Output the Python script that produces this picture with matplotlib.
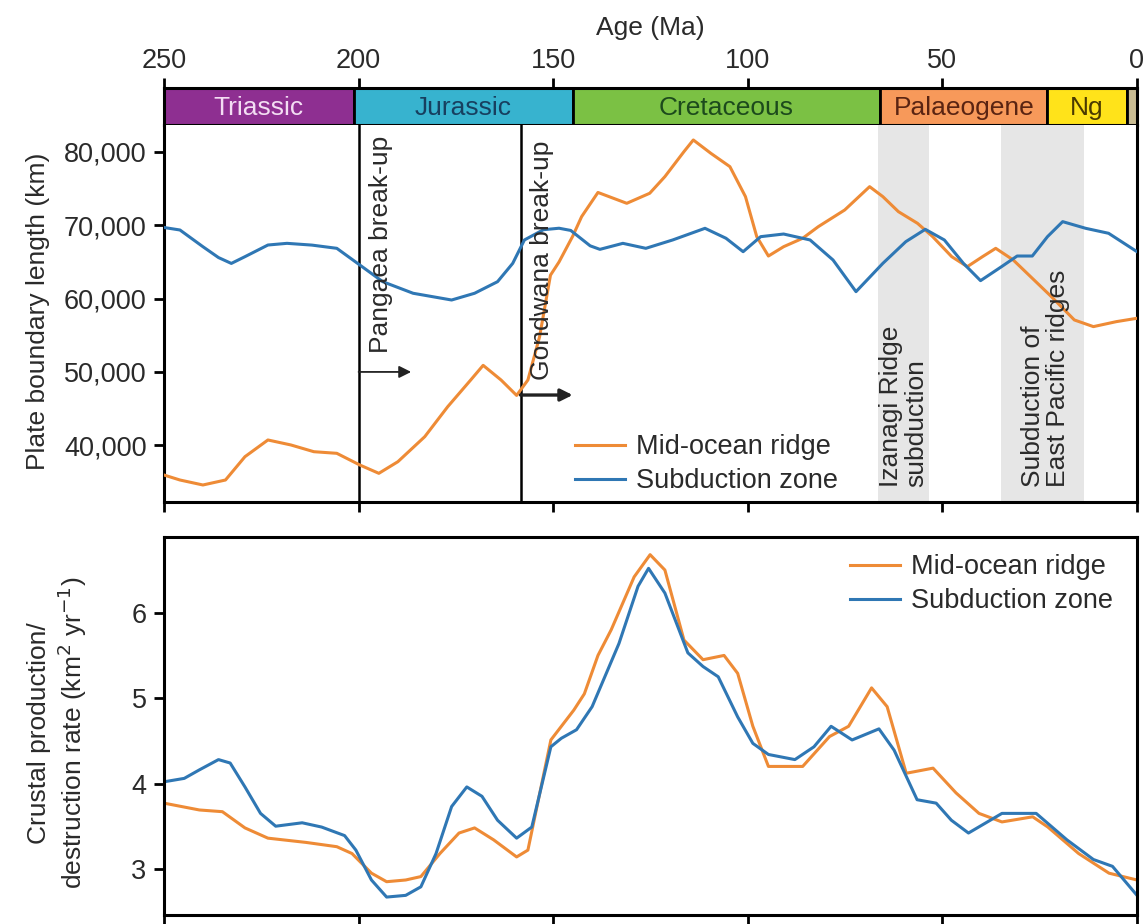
import matplotlib.pyplot as plt

plt.rcParams['font.family'] = ['Liberation Sans', 'DejaVu Sans']

# geological periods (start, end, name)
periodos = [(250, 201.3, 'Triassic'), (201.3, 145, 'Jurassic'), (145, 66, 'Cretaceous'),
            (66, 23, 'Palaeogene'), (23, 2.6, 'Ng'), (2.6, 0, '')]
cores_periodo = ['#8E2F91', '#37B3CF', '#7BC144', '#F7995A', '#FFE31A', '#C9BC93']
cores_texto = ['#F3DDF3', '#173F5F', '#1C4A1C', '#5A2412', '#4A3A00', '#000000']

# top panel: plate boundary length (km)
idade_sub = [250, 245.9, 240, 236, 232.7, 229.2, 223.3, 218.4, 212, 205.6, 199.7, 193.8, 186,
             176.1, 170.2, 164.3, 160.4, 157.4, 152.5, 148.5, 145.5, 140.5, 138, 132.1, 126.2,
             119.3, 111, 105.6, 101.2, 96.7, 90.8, 84, 78.1, 72.2, 65.3, 59.4, 54.4, 49.5,
             44.6, 40.2, 34.8, 30.8, 26.9, 23, 19.1, 13.2, 7.3, 0]
comp_sub = [69700, 69360, 67080, 65600, 64800, 65720, 67310, 67540, 67300, 66860, 64590, 62310,
            60730, 59810, 60730, 62310, 64810, 68000, 69400, 69600, 69300, 67200, 66720, 67540,
            66860, 68000, 69590, 68230, 66400, 68450, 68810, 68000, 65270, 60950, 64810, 67770,
            69450, 68000, 64810, 62450, 64360, 65810, 65810, 68450, 70500, 69590, 68910, 66400]

idade_dorsal = [250, 245.9, 240, 234.2, 229.2, 223.3, 217.4, 211.5, 205.6, 199.7, 194.8, 189.9,
                183, 177.1, 171.2, 168, 163.4, 159.4, 156.5, 153.5, 150.7, 148.5, 145, 142.7,
                138.5, 131.1, 125.2, 121.3, 116.4, 114, 109.5, 104.6, 100.6, 97.7, 94.7, 90.8,
                85.9, 81.9, 75.1, 68.7, 65.3, 61.3, 56.4, 52.5, 47.6, 43.6, 39.7, 36.3, 31.8,
                26.9, 22, 16.1, 11.2, 5.3, 0]
comp_dorsal = [35940, 35260, 34580, 35260, 38440, 40720, 40040, 39120, 38900, 37310, 36170,
               37760, 41170, 45260, 48900, 50900, 48900, 46800, 48900, 54800, 63200, 65000,
               68500, 71180, 74480, 73000, 74370, 76640, 80050, 81640, 79820, 78000, 73910,
               68450, 65810, 67080, 68230, 69810, 72090, 75270, 73910, 71860, 70270, 68450,
               65720, 64360, 65720, 66860, 65270, 62770, 60270, 57090, 56180, 56860, 57320]

# bottom panel: crustal production / destruction rate (km2/yr)
idade_taxa_sub = [250, 244.8, 240.9, 236, 233, 229.2, 225.2, 221.3, 214.5, 209.5, 203.6, 200.7,
                  196.7, 192.8, 187.9, 184, 180.1, 176.1, 172.2, 168.3, 164.3, 159.4, 155.5,
                  150.6, 147.9, 144, 140, 133.1, 128.2, 125.5, 121.3, 115.4, 111.5, 107.6,
                  102.6, 98.7, 94.7, 87.9, 83, 78.6, 73.2, 66.3, 62.4, 56.5, 51.6, 47.7, 43.3,
                  34.7, 25.9, 18, 11.2, 6.3, 0]
taxa_sub = [4.02, 4.06, 4.16, 4.28, 4.24, 3.96, 3.65, 3.50, 3.54, 3.49, 3.39, 3.22, 2.87, 2.67,
            2.69, 2.79, 3.18, 3.73, 3.96, 3.85, 3.57, 3.36, 3.49, 4.43, 4.53, 4.63, 4.90, 5.64,
            6.31, 6.52, 6.23, 5.53, 5.37, 5.25, 4.78, 4.47, 4.34, 4.28, 4.43, 4.67, 4.51, 4.64,
            4.39, 3.81, 3.77, 3.57, 3.42, 3.65, 3.65, 3.34, 3.11, 3.03, 2.69]

idade_taxa_dorsal = [250, 240.9, 235, 229.2, 223.3, 213.5, 205.6, 201.7, 196.7, 192.8, 187.9,
                     184, 179.1, 174.2, 170.2, 165.3, 159.4, 156.5, 150.6, 144.7, 142, 138.5,
                     135.1, 129.2, 125.1, 121.3, 116.4, 111.5, 106.1, 102.6, 98.7, 94.7, 85.9,
                     79, 74.1, 68.2, 64.2, 59.3, 52.4, 46.5, 40.6, 34.7, 26.8, 22.9, 15, 7.2, 0]
taxa_dorsal = [3.77, 3.69, 3.67, 3.48, 3.36, 3.31, 3.26, 3.18, 2.95, 2.85, 2.87, 2.91, 3.18,
               3.42, 3.48, 3.34, 3.14, 3.22, 4.51, 4.86, 5.05, 5.50, 5.80, 6.42, 6.68, 6.50,
               5.68, 5.45, 5.50, 5.29, 4.67, 4.20, 4.20, 4.55, 4.67, 5.12, 4.90, 4.12, 4.18,
               3.89, 3.65, 3.55, 3.61, 3.49, 3.18, 2.95, 2.87]

laranja = '#EE8B36'
azul = '#2F77B4'
cinza_texto = '#2a2a2a'
fs = 19.5
lw_eixo = 2.2

fig = plt.figure(figsize=(11.47, 9.24), dpi=100)
esq, larg = 164 / 1147, 973 / 1147

ax_p = fig.add_axes([esq, 1 - 125 / 924, larg, 37 / 924])
ax1 = fig.add_axes([esq, 1 - 502 / 924, larg, 377 / 924])
ax2 = fig.add_axes([esq, 1 - 915 / 924, larg, 378 / 924])

# period bar
for (ini, fim, nome), cor, ct in zip(periodos, cores_periodo, cores_texto):
    ax_p.barh(0.5, ini - fim, left=fim, height=1, color=cor, edgecolor='black', linewidth=2)
    if nome:
        ax_p.text((ini + fim) / 2, 0.45, nome, ha='center', va='center', fontsize=19,
                  color=ct)
ax_p.set_xlim(250, 0)
ax_p.set_ylim(0, 1)
ax_p.set_yticks([])
ax_p.xaxis.tick_top()
ax_p.set_xticks([250, 200, 150, 100, 50, 0])
ax_p.tick_params(axis='x', direction='out', length=7, width=2, pad=3, labelsize=fs,
                 labelcolor=cinza_texto)
for s in ax_p.spines.values():
    s.set_linewidth(lw_eixo)
fig.text(650 / 1147, 1 - 28 / 924, 'Age (Ma)', ha='center', va='center', fontsize=19,
         color=cinza_texto)

# top panel
ax1.axvspan(66.5, 53.5, color='#E6E6E6', zorder=0, lw=0)
ax1.axvspan(35, 13.5, color='#E6E6E6', zorder=0, lw=0)
ax1.axvline(200, color='black', lw=1.8, zorder=1)
ax1.axvline(158.4, color='black', lw=1.8, zorder=1)
ax1.plot(idade_dorsal, comp_dorsal, color=laranja, lw=2.2, label='Mid-ocean ridge', zorder=3)
ax1.plot(idade_sub, comp_sub, color=azul, lw=2.2, label='Subduction zone', zorder=3)
ax1.annotate('', xy=(186.5, 50000), xytext=(200, 50000),
             arrowprops=dict(arrowstyle='-|>', color='#222222', lw=1.3,
                             mutation_scale=18, shrinkA=0, shrinkB=0))
ax1.annotate('', xy=(145, 46850), xytext=(158.4, 46850),
             arrowprops=dict(arrowstyle='-|>', color='#222222', lw=2.4,
                             mutation_scale=18, shrinkA=0, shrinkB=0))
ax1.text(194.2, 52600, 'Pangaea break-up', rotation=90, ha='center', va='bottom',
         fontsize=19, color=cinza_texto)
ax1.text(153.0, 48900, 'Gondwana break-up', rotation=90, ha='center', va='bottom',
         fontsize=19, color=cinza_texto)
ax1.text(59.9, 34340, 'Izanagi Ridge\nsubduction', rotation=90, ha='center', va='bottom',
         multialignment='left', linespacing=1.05, fontsize=19, color=cinza_texto)
ax1.text(23.4, 34340, 'Subduction of\nEast Pacific ridges', rotation=90, ha='center',
         va='bottom', multialignment='left', linespacing=1.05, fontsize=19, color=cinza_texto)
ax1.set_xlim(250, 0)
ax1.set_ylim(32260, 83680)
ax1.set_yticks([40000, 50000, 60000, 70000, 80000])
ax1.set_yticklabels(['40,000', '50,000', '60,000', '70,000', '80,000'])
ax1.set_xticks([250, 200, 150, 100, 50, 0])
ax1.set_xticklabels([])
ax1.spines['top'].set_visible(False)
ax1.legend(loc='lower left', bbox_to_anchor=(0.4224, 0.02), frameon=False, fontsize=fs,
           handlelength=1.85, handletextpad=0.4, borderpad=0, borderaxespad=0,
           labelspacing=0.3, labelcolor=cinza_texto)
fig.text(38 / 1147, 1 - 311 / 924, 'Plate boundary length (km)', rotation=90, ha='center',
         va='center', fontsize=19, color=cinza_texto)

# bottom panel
ax2.plot(idade_taxa_dorsal, taxa_dorsal, color=laranja, lw=2.2, label='Mid-ocean ridge')
ax2.plot(idade_taxa_sub, taxa_sub, color=azul, lw=2.2, label='Subduction zone')
ax2.set_xlim(250, 0)
ax2.set_ylim(2.46, 6.887)
ax2.set_yticks([3, 4, 5, 6])
ax2.set_xticks([250, 200, 150, 100, 50, 0])
ax2.set_xticklabels([])
ax2.legend(loc='upper left', bbox_to_anchor=(0.705, 0.955), frameon=False, fontsize=fs,
           handlelength=1.85, handletextpad=0.4, borderpad=0, borderaxespad=0,
           labelspacing=0.3, labelcolor=cinza_texto)
fig.text(58 / 1147, 1 - 733 / 924,
         'Crustal production/\ndestruction rate (km$^2$ yr$^{-1}$)', rotation=90,
         ha='center', va='center', multialignment='center', linespacing=1.15, fontsize=19,
         color=cinza_texto)

for ax in (ax1, ax2):
    for s in ax.spines.values():
        s.set_linewidth(lw_eixo)
    ax.tick_params(direction='out', length=7.5, width=2, pad=5, labelsize=fs,
                   labelcolor=cinza_texto)

fig.savefig('out.png', dpi=100)
